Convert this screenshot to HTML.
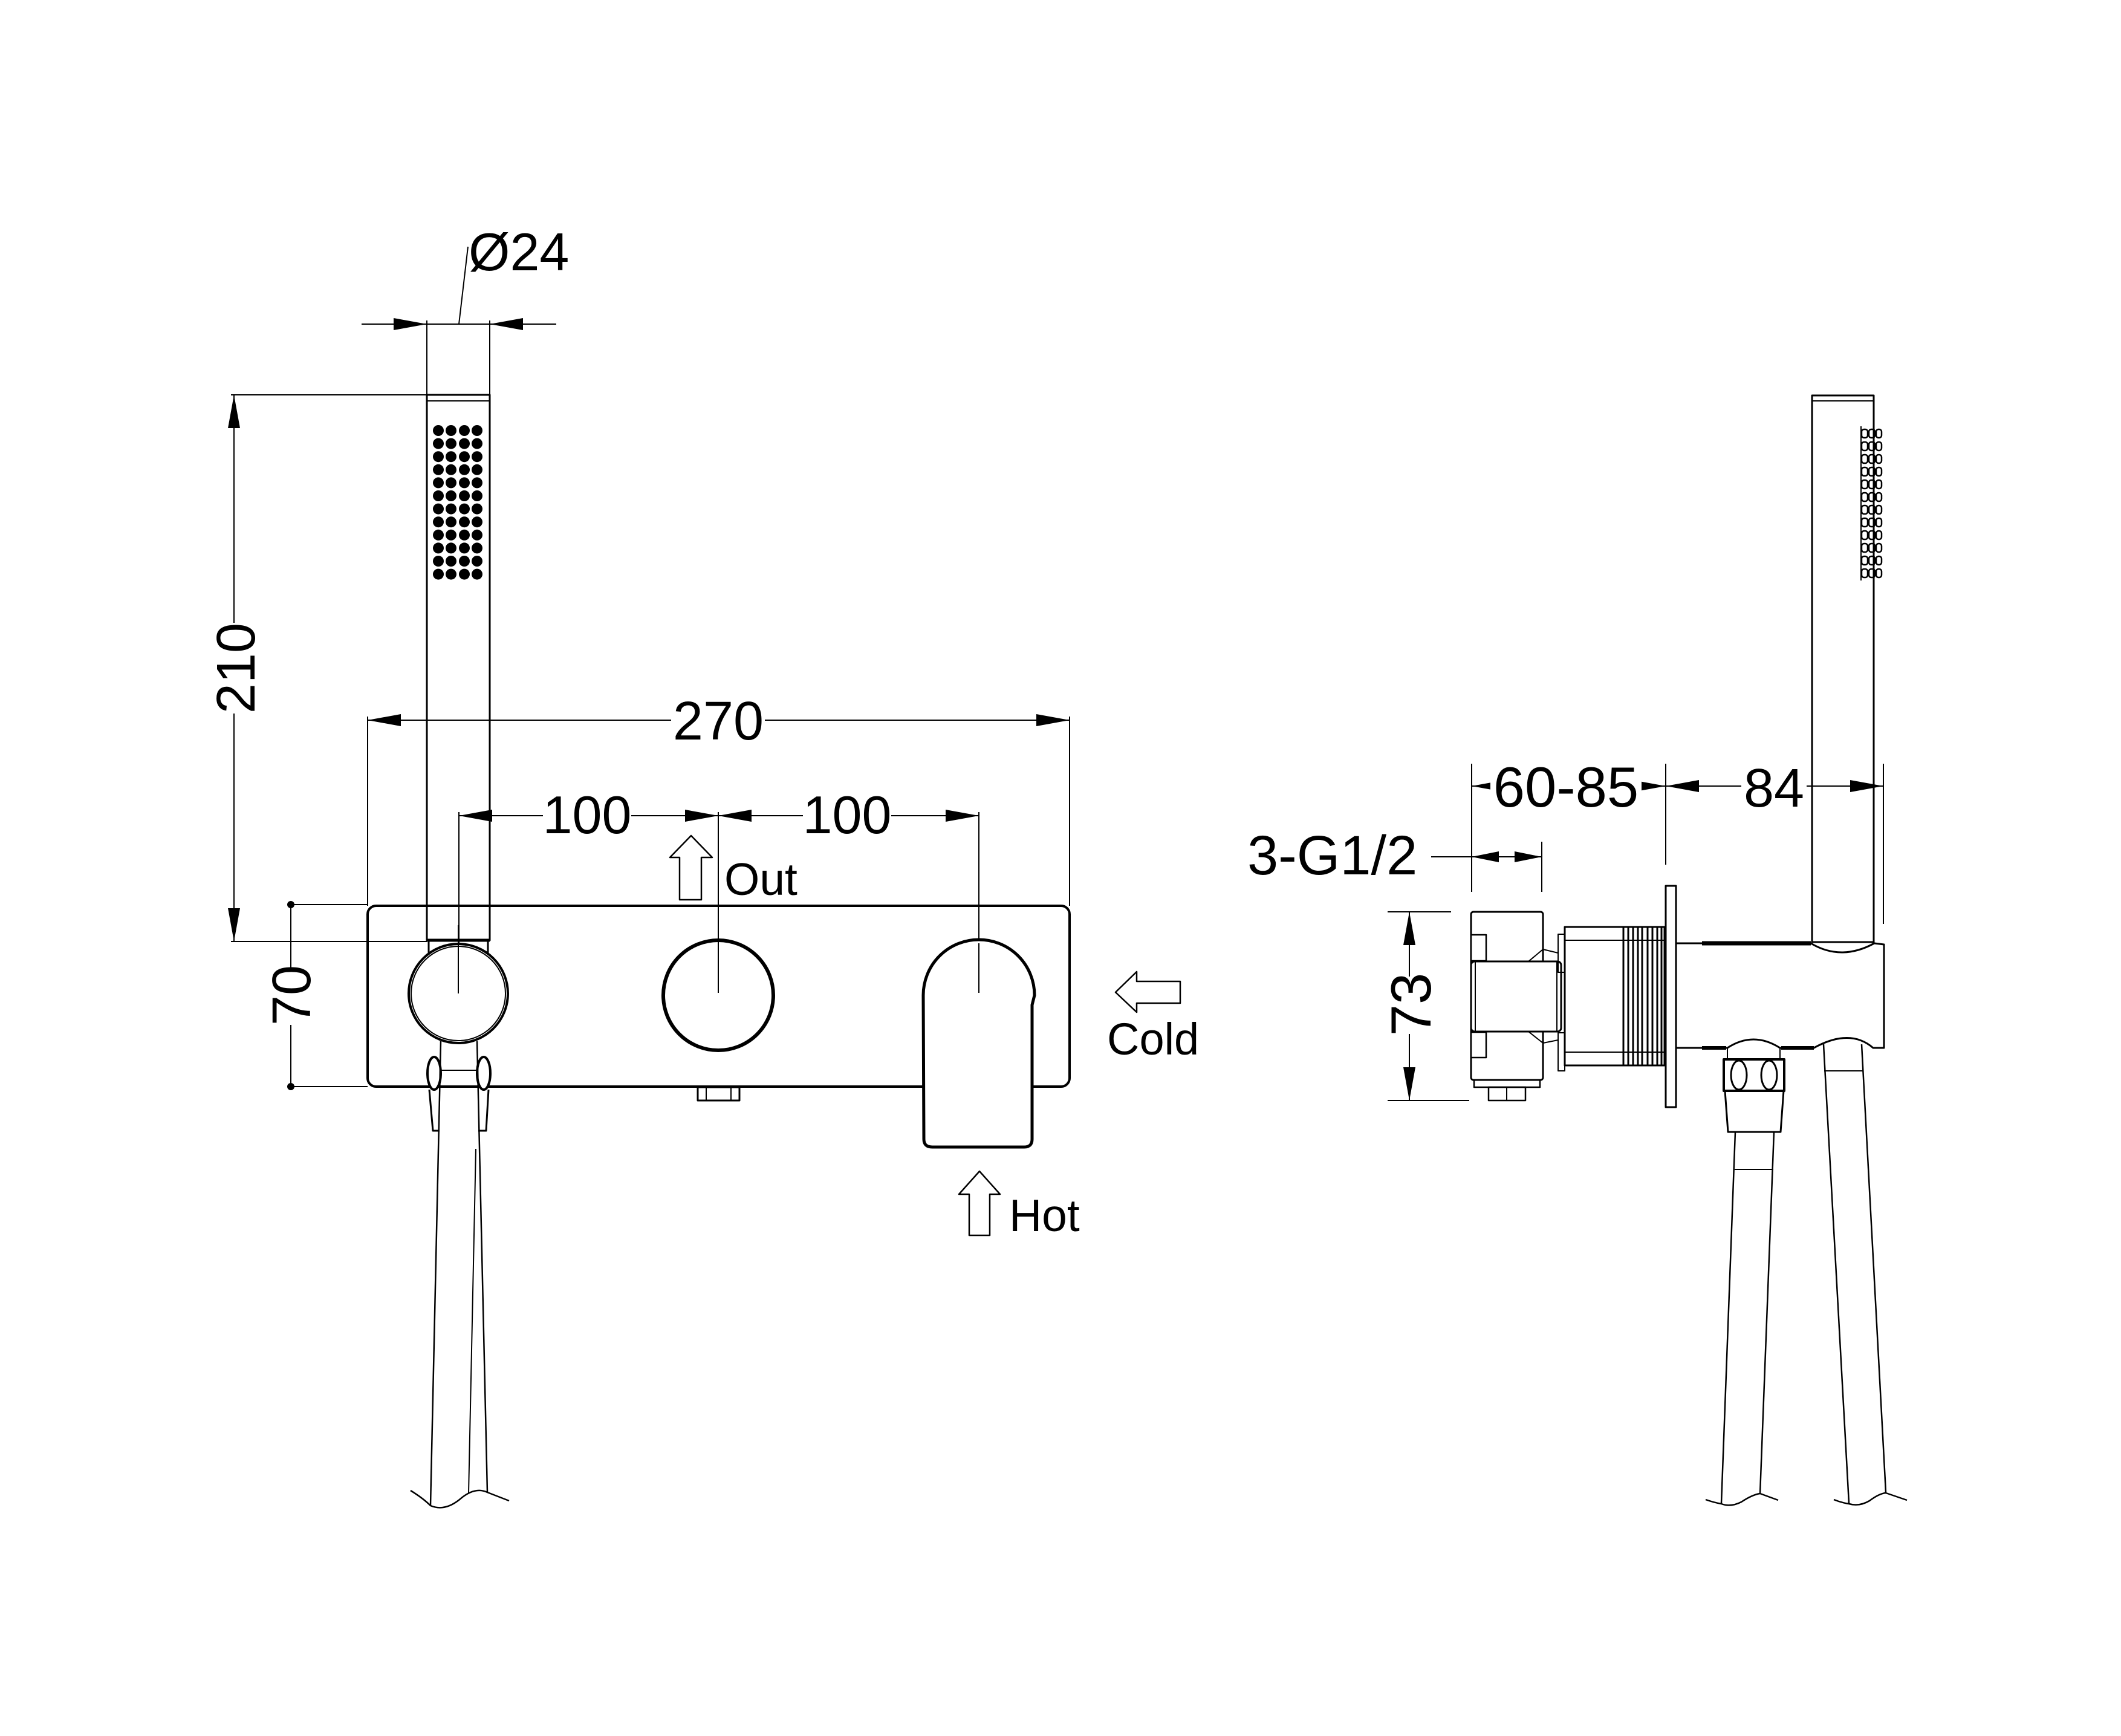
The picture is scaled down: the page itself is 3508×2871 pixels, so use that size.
<!DOCTYPE html>
<html><head><meta charset="utf-8"><style>
html,body{margin:0;padding:0;background:#fff}
svg{display:block}
text{font-family:"Liberation Sans",Arial,sans-serif;fill:#000}
</style></head><body>
<svg width="3508" height="2871" viewBox="0 0 3508 2871" xmlns="http://www.w3.org/2000/svg">
<rect width="3508" height="2871" fill="#fff"/>
<g fill="none" stroke="#000" stroke-width="3" stroke-linejoin="round">

<!-- ================= LEFT VIEW ================= -->
<!-- handle -->
<rect x="706" y="653" width="104" height="902"/>
<line x1="706" y1="663" x2="810" y2="663" stroke-width="2"/>
<line x1="706" y1="1555" x2="810" y2="1555" stroke-width="5"/>
<line x1="709" y1="1555" x2="709" y2="1580"/>
<line x1="807" y1="1555" x2="807" y2="1580"/>

<!-- Ø24 dim -->
<line x1="706" y1="530" x2="706" y2="653" stroke-width="2"/>
<line x1="810" y1="530" x2="810" y2="653" stroke-width="2"/>
<line x1="598" y1="536" x2="920" y2="536" stroke-width="2"/>
<line x1="759" y1="536" x2="774" y2="408" stroke-width="2"/>

<!-- 210 dim -->
<line x1="382" y1="653" x2="706" y2="653" stroke-width="2"/>
<line x1="382" y1="1557" x2="706" y2="1557" stroke-width="2"/>
<line x1="387" y1="653" x2="387" y2="1557" stroke-width="2"/>

<!-- 270 dim -->
<line x1="608" y1="1185" x2="608" y2="1498" stroke-width="2"/>
<line x1="1769" y1="1185" x2="1769" y2="1498" stroke-width="2"/>
<line x1="608" y1="1191" x2="1769" y2="1191" stroke-width="2"/>

<!-- 100 dims -->
<line x1="759" y1="1349" x2="1619" y2="1349" stroke-width="2"/>
<line x1="759" y1="1343" x2="759" y2="1640" stroke-width="2"/>
<line x1="1188" y1="1343" x2="1188" y2="1642" stroke-width="2"/>
<line x1="1619" y1="1343" x2="1619" y2="1642" stroke-width="2"/>

<!-- plate -->
<rect x="608" y="1498" width="1161" height="299" rx="14" stroke-width="4"/>

<!-- 70 dim -->
<line x1="481" y1="1496" x2="608" y2="1496" stroke-width="2"/>
<line x1="481" y1="1797" x2="608" y2="1797" stroke-width="2"/>
<line x1="481" y1="1496" x2="481" y2="1797" stroke-width="2"/>

<!-- left knob/holder -->
<circle cx="758" cy="1643" r="82" fill="#fff" stroke-width="4"/>
<circle cx="758" cy="1643" r="78" stroke-width="2"/>
<line x1="758" y1="1530" x2="758" y2="1643" stroke-width="2"/>
<!-- middle knob -->
<circle cx="1188" cy="1646" r="91" stroke-width="6"/>
<!-- lever -->
<path d="M1527,1646 A92,92 0 0 1 1711,1646 L1707,1662 L1707,1884 Q1707,1897 1694,1897 L1542,1897 Q1528,1897 1528,1884 Z" fill="#fff" stroke-width="5"/>
<line x1="1619" y1="1560" x2="1619" y2="1642" stroke-width="2"/>
<!-- nut under plate -->
<rect x="1154" y="1798" width="69" height="22" stroke-width="3"/>
<line x1="1168" y1="1798" x2="1168" y2="1820" stroke-width="2"/>
<line x1="1209" y1="1798" x2="1209" y2="1820" stroke-width="2"/>

<!-- hose clips -->
<ellipse cx="718" cy="1775" rx="11" ry="27" fill="#fff" stroke-width="4"/>
<ellipse cx="800" cy="1775" rx="11" ry="27" fill="#fff" stroke-width="4"/>
<path d="M710,1802 L716,1870 L727,1870" stroke-width="3"/>
<path d="M808,1802 L804,1870 L791,1870" stroke-width="3"/>
<line x1="727" y1="1770" x2="791" y2="1770" stroke-width="2"/>
<!-- hose -->
<line x1="729" y1="1722" x2="712" y2="2490" stroke-width="2.5"/>
<line x1="789" y1="1722" x2="806" y2="2468" stroke-width="2.5"/>
<line x1="787" y1="1900" x2="775" y2="2470" stroke-width="2"/>
<path d="M679,2465 Q700,2478 712,2490 Q735,2500 760,2480 Q785,2458 806,2468 L842,2482" stroke-width="2.5"/>

<!-- Out arrow -->
<path d="M1143,1382 L1178,1418 L1160,1418 L1160,1488 L1124,1488 L1124,1418 L1108,1418 Z" stroke-width="2.5"/>
<!-- Hot arrow -->
<path d="M1620,1937 L1654,1975 L1637,1975 L1637,2043 L1603,2043 L1603,1975 L1586,1975 Z" stroke-width="2.5"/>
<!-- Cold arrow -->
<path d="M1845,1641 L1880,1607 L1880,1623 L1952,1623 L1952,1659 L1880,1659 L1880,1674 Z" stroke-width="2.5"/>

<!-- ================= RIGHT VIEW ================= -->
<!-- handle -->
<rect x="2997" y="654" width="102" height="904"/>
<line x1="2997" y1="663" x2="3099" y2="663" stroke-width="2"/>
<!-- 60-85 / 84 dims -->
<line x1="2434" y1="1263" x2="2434" y2="1475" stroke-width="2"/>
<line x1="2755" y1="1263" x2="2755" y2="1430" stroke-width="2"/>
<line x1="3115" y1="1263" x2="3115" y2="1528" stroke-width="2"/>
<line x1="2434" y1="1300" x2="3115" y2="1300" stroke-width="2"/>
<!-- 3-G1/2 -->
<line x1="2550" y1="1392" x2="2550" y2="1475" stroke-width="2"/>
<line x1="2367" y1="1417" x2="2550" y2="1417" stroke-width="2"/>
<!-- 73 -->
<line x1="2295" y1="1508" x2="2400" y2="1508" stroke-width="2"/>
<line x1="2295" y1="1820" x2="2430" y2="1820" stroke-width="2"/>
<line x1="2331" y1="1508" x2="2331" y2="1820" stroke-width="2"/>

<!-- valve body -->
<rect x="2433" y="1508" width="119" height="278" rx="4" stroke-width="3"/>
<rect x="2433" y="1546" width="25" height="43" stroke-width="2.5" fill="#fff"/>
<rect x="2433" y="1707" width="25" height="42" stroke-width="2.5" fill="#fff"/>
<rect x="2433" y="1590" width="149" height="116" rx="6" fill="#fff" stroke-width="3"/>
<line x1="2440" y1="1590" x2="2440" y2="1706" stroke-width="2"/>
<line x1="2575" y1="1590" x2="2575" y2="1706" stroke-width="2"/>
<path d="M2528,1590 L2552,1570 L2577,1576" stroke-width="2"/>
<path d="M2528,1706 L2552,1725 L2577,1720" stroke-width="2"/>
<rect x="2438" y="1786" width="109" height="12" stroke-width="2.5"/>
<rect x="2462" y="1798" width="61" height="22" stroke-width="2.5"/>
<line x1="2492" y1="1798" x2="2492" y2="1820" stroke-width="2"/>
<rect x="2577" y="1545" width="11" height="63" stroke-width="2"/>
<rect x="2577" y="1708" width="11" height="63" stroke-width="2"/>
<!-- cylinder -->
<rect x="2588" y="1533" width="165" height="229" stroke-width="3"/>
<line x1="2588" y1="1555" x2="2753" y2="1555" stroke-width="2"/>
<line x1="2588" y1="1740" x2="2753" y2="1740" stroke-width="2"/>
<g stroke-width="3">
<line x1="2685" y1="1533" x2="2685" y2="1762"/>
<line x1="2693" y1="1533" x2="2693" y2="1762"/>
<line x1="2701" y1="1533" x2="2701" y2="1762"/>
<line x1="2709" y1="1533" x2="2709" y2="1762"/>
<line x1="2716" y1="1533" x2="2716" y2="1762"/>
<line x1="2725" y1="1533" x2="2725" y2="1762"/>
<line x1="2733" y1="1533" x2="2733" y2="1762"/>
<line x1="2741" y1="1533" x2="2741" y2="1762"/>
<line x1="2748" y1="1533" x2="2748" y2="1762"/>
</g>
<!-- wall plate -->
<rect x="2755" y="1465" width="17" height="366" stroke-width="3"/>
<!-- bracket -->
<path d="M2772,1560 L2995,1560 Q3045,1590 3100,1560 L3116,1562 L3116,1733 L3098,1733 Q3060,1700 3000,1733 L2944,1733 Q2900,1705 2857,1733 L2772,1733" stroke-width="3"/>
<line x1="2815" y1="1560" x2="2995" y2="1560" stroke-width="7"/>
<line x1="2815" y1="1733" x2="2855" y2="1733" stroke-width="6"/>
<line x1="2946" y1="1733" x2="3000" y2="1733" stroke-width="6"/>
<!-- hose nut -->
<rect x="2851" y="1752" width="100" height="52" stroke-width="4"/>
<ellipse cx="2876" cy="1778" rx="13" ry="24" stroke-width="3"/>
<ellipse cx="2926" cy="1778" rx="13" ry="24" stroke-width="3"/>
<line x1="2857" y1="1733" x2="2857" y2="1752" stroke-width="2"/>
<line x1="2944" y1="1733" x2="2944" y2="1752" stroke-width="2"/>
<path d="M2853,1804 L2858,1872 L2945,1872 L2950,1804" stroke-width="3"/>
<!-- hoses right -->
<line x1="2870" y1="1872" x2="2847" y2="2486" stroke-width="2.5"/>
<line x1="2934" y1="1872" x2="2911" y2="2470" stroke-width="2.5"/>
<line x1="2869" y1="1934" x2="2933" y2="1934" stroke-width="2"/>
<line x1="3016" y1="1727" x2="3058" y2="2486" stroke-width="2.5"/>
<line x1="3079" y1="1727" x2="3119" y2="2468" stroke-width="2.5"/>
<line x1="3017" y1="1771" x2="3081" y2="1771" stroke-width="2"/>
<path d="M2821,2480 Q2835,2485 2847,2487 Q2862,2493 2880,2484 Q2898,2472 2911,2470 L2941,2481" stroke-width="2.5"/>
<path d="M3033,2480 Q3045,2485 3058,2487 Q3075,2492 3092,2482 Q3108,2470 3119,2469 L3154,2481" stroke-width="2.5"/>
</g>

<!-- spray dots left -->
<g fill="#000">
<g id="dr">
<circle cx="725" cy="712" r="9"/><circle cx="746" cy="712" r="9"/><circle cx="768" cy="712" r="9"/><circle cx="789" cy="712" r="9"/>
</g>
<use href="#dr" y="21.6"/><use href="#dr" y="43.2"/><use href="#dr" y="64.8"/><use href="#dr" y="86.4"/><use href="#dr" y="108"/><use href="#dr" y="129.6"/><use href="#dr" y="151.2"/><use href="#dr" y="172.8"/><use href="#dr" y="194.4"/><use href="#dr" y="216"/><use href="#dr" y="237.6"/>
</g>
<!-- spray slots right -->
<g fill="none" stroke="#000" stroke-width="2.5">
<g id="sl"><rect x="3079" y="710" width="10" height="14" rx="4"/><rect x="3091" y="710" width="10" height="14" rx="4"/><rect x="3103" y="710" width="9" height="14" rx="4"/></g>
<use href="#sl" y="21"/><use href="#sl" y="42"/><use href="#sl" y="63"/><use href="#sl" y="84"/><use href="#sl" y="105"/><use href="#sl" y="126"/><use href="#sl" y="147"/><use href="#sl" y="168"/><use href="#sl" y="189"/><use href="#sl" y="210"/><use href="#sl" y="231"/>
</g>
<line x1="3078" y1="705" x2="3078" y2="960" stroke="#000" stroke-width="2"/>

<!-- dots on 70 -->
<circle cx="481" cy="1496" r="6" fill="#000"/>
<circle cx="481" cy="1797" r="6" fill="#000"/>

<!-- arrowheads -->
<g fill="#000">
<!-- Ø24 -->
<path d="M706,536 L651,526 L651,546 Z"/>
<path d="M810,536 L865,526 L865,546 Z"/>
<!-- 210 -->
<path d="M387,653 L377,708 L397,708 Z"/>
<path d="M387,1557 L377,1502 L397,1502 Z"/>
<!-- 270 -->
<path d="M608,1191 L663,1181 L663,1201 Z"/>
<path d="M1769,1191 L1714,1181 L1714,1201 Z"/>
<!-- 100 -->
<path d="M759,1349 L814,1339 L814,1359 Z"/>
<path d="M1188,1349 L1133,1339 L1133,1359 Z"/>
<path d="M1188,1349 L1243,1339 L1243,1359 Z"/>
<path d="M1619,1349 L1564,1339 L1564,1359 Z"/>
<!-- 60-85 / 84 -->
<path d="M2434,1300 L2489,1290 L2489,1310 Z"/>
<path d="M2755,1300 L2700,1290 L2700,1310 Z"/>
<path d="M2755,1300 L2810,1290 L2810,1310 Z"/>
<path d="M3115,1300 L3060,1290 L3060,1310 Z"/>
<!-- 3-G1/2 -->
<path d="M2434,1417 L2479,1408 L2479,1426 Z"/>
<path d="M2550,1417 L2505,1408 L2505,1426 Z"/>
<!-- 73 -->
<path d="M2331,1508 L2321,1563 L2341,1563 Z"/>
<path d="M2331,1820 L2321,1765 L2341,1765 Z"/>
</g>

<!-- text backgrounds -->
<g fill="#fff">
<rect x="1110" y="1150" width="155" height="80"/>
<rect x="898" y="1310" width="146" height="75"/>
<rect x="1328" y="1310" width="146" height="75"/>
<rect x="350" y="1030" width="75" height="150"/>
<rect x="438" y="1600" width="80" height="95"/>
<rect x="2465" y="1260" width="250" height="78"/>
<rect x="2880" y="1260" width="108" height="78"/>
<rect x="2290" y="1615" width="80" height="95"/>
</g>

<!-- labels -->
<text x="775" y="447" font-size="88">Ø24</text>
<text x="1188" y="1223" font-size="90" text-anchor="middle">270</text>
<text x="971" y="1378" font-size="88" text-anchor="middle">100</text>
<text x="1401" y="1378" font-size="88" text-anchor="middle">100</text>
<text transform="translate(421,1105) rotate(-90)" font-size="90" text-anchor="middle">210</text>
<text transform="translate(513,1646) rotate(-90)" font-size="90" text-anchor="middle">70</text>
<text x="1198" y="1480" font-size="75">Out</text>
<text x="1669" y="2036" font-size="75">Hot</text>
<text x="1831" y="1744" font-size="74">Cold</text>
<text x="2590" y="1334" font-size="94" text-anchor="middle">60-85</text>
<text x="2934" y="1334" font-size="90" text-anchor="middle">84</text>
<text x="2063" y="1446" font-size="92">3-G1/2</text>
<text transform="translate(2366,1661) rotate(-90)" font-size="94" text-anchor="middle">73</text>
</svg>
</body></html>
